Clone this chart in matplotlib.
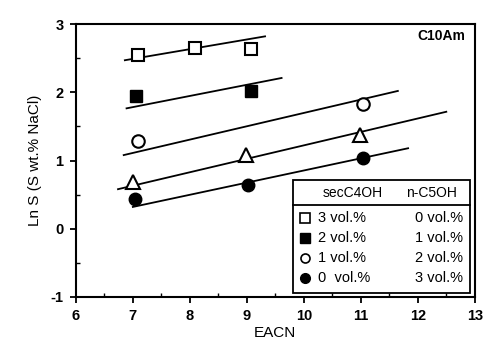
import matplotlib
matplotlib.use("Agg")
import matplotlib.pyplot as plt
from matplotlib.lines import Line2D
from matplotlib.patches import Rectangle
from matplotlib.ticker import MultipleLocator

plt.rcParams['font.family'] = ['Liberation Sans', 'DejaVu Sans']
plt.rcParams['axes.unicode_minus'] = False

# data points
sq_open_x = [7.09, 8.09, 9.08]
sq_open_y = [2.55, 2.65, 2.64]
sq_fill_x = [7.06, 9.08]
sq_fill_y = [1.95, 2.02]
circ_open_x = [7.09, 11.04]
circ_open_y = [1.29, 1.83]
tri_x = [7.0, 8.99, 10.99]
tri_y = [0.69, 1.08, 1.38]
circ_fill_x = [7.03, 9.02, 11.04]
circ_fill_y = [0.43, 0.64, 1.03]

# fitted lines (endpoints)
fit_sq_open_x = [6.86, 9.32]
fit_sq_open_y = [2.47, 2.82]
fit_sq_fill_x = [6.89, 9.61]
fit_sq_fill_y = [1.765, 2.21]
fit_circ_open_x = [6.84, 11.65]
fit_circ_open_y = [1.08, 2.02]
fit_tri_x = [6.74, 12.5]
fit_tri_y = [0.58, 1.715]
fit_circ_fill_x = [7.0, 11.83]
fit_circ_fill_y = [0.32, 1.18]

legend_sec = ["3 vol.%", "2 vol.%", "1 vol.%", "0  vol.%"]
legend_n = ["0 vol.%", "1 vol.%", "2 vol.%", "3 vol.%"]

fig = plt.figure(figsize=(4.83, 3.49), dpi=100)
ax = fig.add_axes([0.157, 0.149, 0.826, 0.782])

lw = 1.3
for fx, fy in [(fit_sq_open_x, fit_sq_open_y), (fit_sq_fill_x, fit_sq_fill_y),
               (fit_circ_open_x, fit_circ_open_y), (fit_tri_x, fit_tri_y),
               (fit_circ_fill_x, fit_circ_fill_y)]:
    ax.plot(fx, fy, color='black', lw=lw, zorder=2)

ms = 9
ax.plot(sq_open_x, sq_open_y, 's', ms=ms, mfc='white', mec='black', mew=1.5, ls='none', zorder=3)
ax.plot(sq_fill_x, sq_fill_y, 's', ms=ms, mfc='black', mec='black', ls='none', zorder=3)
ax.plot(circ_open_x, circ_open_y, 'o', ms=ms, mfc='white', mec='black', mew=1.5, ls='none', zorder=3)
ax.plot(tri_x, tri_y, '^', ms=10.5, mfc='white', mec='black', mew=1.5, ls='none', zorder=3)
ax.plot(circ_fill_x, circ_fill_y, 'o', ms=ms, mfc='black', mec='black', ls='none', zorder=3)

ax.set_xlim(6, 13)
ax.set_ylim(-1, 3)
ax.xaxis.set_major_locator(MultipleLocator(1))
ax.xaxis.set_minor_locator(MultipleLocator(0.5))
ax.yaxis.set_major_locator(MultipleLocator(1))
ax.yaxis.set_minor_locator(MultipleLocator(0.5))
ax.tick_params(which='major', direction='out', length=4, width=1.3, labelsize=10.5, pad=5)
ax.tick_params(which='minor', direction='in', length=3, width=1.0)
ax.tick_params(top=False, right=False)
for lab in ax.get_xticklabels() + ax.get_yticklabels():
    lab.set_fontweight('bold')
for s in ax.spines.values():
    s.set_linewidth(1.5)

ax.set_xlabel("EACN", fontsize=11, labelpad=2)
ax.set_ylabel("Ln S (S wt.% NaCl)", fontsize=11, labelpad=6)
ax.text(0.975, 0.955, "C10Am", transform=ax.transAxes, ha='right', va='center',
        fontsize=10, fontweight='bold')

# legend table
x0, x1, y0, y1 = 0.544, 0.988, 0.015, 0.429
ax.add_patch(Rectangle((x0, y0), x1 - x0, y1 - y0, transform=ax.transAxes,
                       fill=True, fc='white', ec='black', lw=1.3, zorder=4))
ax.plot([x0, x1], [0.337, 0.337], transform=ax.transAxes, color='black', lw=1.3, zorder=5)
ax.text(0.694, 0.382, "secC4OH", transform=ax.transAxes, ha='center', va='center', fontsize=10, zorder=5)
ax.text(0.891, 0.382, "n-C5OH", transform=ax.transAxes, ha='center', va='center', fontsize=10, zorder=5)
rows_y = [0.288, 0.215, 0.142, 0.069]
styles = [dict(marker='s', mfc='white', mec='black', mew=1.2, ms=6.5),
          dict(marker='s', mfc='black', mec='black', ms=6.5),
          dict(marker='o', mfc='white', mec='black', mew=1.2, ms=6.5),
          dict(marker='o', mfc='black', mec='black', ms=7)]
for yy, st, a, b in zip(rows_y, styles, legend_sec, legend_n):
    ax.add_line(Line2D([0.574], [yy], transform=ax.transAxes, ls='none', zorder=6, **st))
    ax.text(0.608, yy, a, transform=ax.transAxes, ha='left', va='center', fontsize=10.5, zorder=6)
    ax.text(0.970, yy, b, transform=ax.transAxes, ha='right', va='center', fontsize=10.5, zorder=6)

fig.savefig("out.png", dpi=100)
